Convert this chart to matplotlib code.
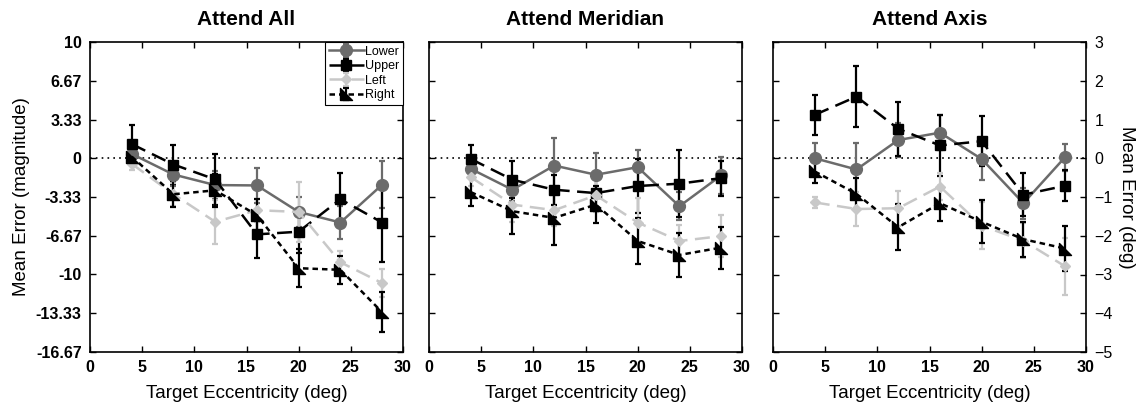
import numpy as np
import matplotlib
matplotlib.use("Agg")
import matplotlib.pyplot as plt
from matplotlib.path import Path

plt.rcParams['font.family'] = ['Liberation Sans', 'DejaVu Sans']

ecc = [4, 8, 12, 16, 20, 24, 28]
series = ["Lower", "Upper", "Left", "Right"]

# Attend All (magnitude)
all_mean = {
    "Lower": [0.37, -1.40, -2.31, -2.34, -4.62, -5.53, -2.28],
    "Upper": [1.22, -0.54, -1.82, -6.55, -6.32, -3.53, -5.53],
    "Left": [-0.48, -3.10, -5.47, -4.47, -4.62, -8.95, -10.74],
    "Right": [0.14, -3.10, -2.76, -4.90, -9.46, -9.60, -13.25],
}
all_err = {
    "Lower": [0.9, 1.0, 1.2, 1.5, 1.3, 1.4, 2.0],
    "Upper": [1.65, 1.7, 2.2, 2.0, 1.8, 2.25, 3.4],
    "Left": [0.5, 1.0, 1.9, 1.0, 2.6, 1.0, 1.2],
    "Right": [0.7, 1.1, 1.4, 1.4, 1.65, 1.2, 1.7],
}

# Attend Meridian (magnitude)
mer_mean = {
    "Lower": [-0.91, -2.71, -0.63, -1.42, -0.77, -4.13, -1.48],
    "Upper": [-0.06, -1.85, -2.71, -3.00, -2.39, -2.19, -1.71],
    "Left": [-1.62, -3.99, -4.47, -3.19, -5.53, -7.12, -6.70],
    "Right": [-2.91, -4.56, -5.13, -3.99, -7.12, -8.32, -7.69],
}
mer_err = {
    "Lower": [0.8, 1.0, 2.4, 1.9, 1.5, 1.2, 1.6],
    "Upper": [1.2, 1.6, 1.3, 1.3, 2.3, 2.9, 1.5],
    "Left": [0.8, 1.5, 1.4, 1.4, 2.1, 1.4, 1.8],
    "Right": [1.2, 2.0, 2.3, 1.6, 2.0, 1.9, 1.8],
}

# Attend Axis (deg)
axis_mean = {
    "Lower": [0.0, -0.29, 0.47, 0.66, -0.02, -1.16, 0.03],
    "Upper": [1.12, 1.59, 0.76, 0.33, 0.44, -0.94, -0.71],
    "Left": [-1.14, -1.31, -1.29, -0.73, -1.74, -2.13, -2.79],
    "Right": [-0.34, -0.92, -1.78, -1.16, -1.64, -2.09, -2.33],
}
axis_err = {
    "Lower": [0.4, 0.68, 0.45, 0.45, 0.55, 0.4, 0.35],
    "Upper": [0.52, 0.78, 0.7, 0.78, 0.65, 0.55, 0.4],
    "Left": [0.15, 0.45, 0.45, 0.35, 0.6, 0.45, 0.74],
    "Right": [0.3, 0.4, 0.6, 0.45, 0.55, 0.45, 0.57],
}

titles = ["Attend All", "Attend Meridian", "Attend Axis"]
mag_ticks = [10, 6.67, 3.33, 0, -3.33, -6.67, -10, -13.33, -16.67]
mag_labels = ["10", "6.67", "3.33", "0", "-3.33", "-6.67", "-10", "-13.33", "-16.67"]
deg_ticks = [3, 2, 1, 0, -1, -2, -3, -4, -5]

# right-angle triangle marker as in the paper
tri = Path([(-1, 1), (-1, -1), (1, -1), (-1, 1)],
           [Path.MOVETO, Path.LINETO, Path.LINETO, Path.CLOSEPOLY])

styles = {
    "Lower": dict(color="#6b6b6b", ls="-", marker="o", ms=8.5),
    "Upper": dict(color="black", ls=(0, (6, 3)), marker="s", ms=6.5),
    "Left": dict(color="#c8c8c8", ls=(0, (6, 3)), marker="D", ms=5.5),
    "Right": dict(color="black", ls=(0, (2.2, 1.6)), marker=tri, ms=8.5),
}

fig = plt.figure(figsize=(11.38, 4.13), dpi=100)
w = 313 / 1138
b = 1 - 352 / 413
h = 310 / 413
lefts = [90 / 1138, 429 / 1138, 773 / 1138]
axes = [fig.add_axes([l, b, w, h]) for l in lefts]

data = [(all_mean, all_err), (mer_mean, mer_err), (axis_mean, axis_err)]

for i, ax in enumerate(axes):
    means, errs = data[i]
    for s in series:
        st = styles[s]
        ax.errorbar(ecc, means[s], yerr=errs[s], color=st["color"],
                    ls=st["ls"], lw=1.8, marker=st["marker"], ms=st["ms"],
                    mfc=st["color"], mec=st["color"], ecolor=st["color"],
                    elinewidth=1.6, capsize=2.5, capthick=1.6, label=s)
    ax.axhline(0, color="black", ls=(0, (1, 2.5)), lw=1.2, zorder=0)
    ax.set_xlim(0, 30)
    ax.set_xticks([0, 5, 10, 15, 20, 25, 30])
    if i < 2:
        ax.set_ylim(-16.67, 10)
        ax.set_yticks(mag_ticks)
    else:
        ax.set_ylim(-5, 3)
        ax.set_yticks(deg_ticks)
    ax.tick_params(direction="in", top=True, right=True, length=4,
                   width=1, labelsize=11.5, pad=6)
    for lab in ax.get_xticklabels() + ax.get_yticklabels():
        lab.set_fontweight("bold")
    for sp in ax.spines.values():
        sp.set_linewidth(1.2)
    ax.set_title(titles[i], fontsize=15, fontweight="bold", pad=12)
    ax.set_xlabel("Target Eccentricity (deg)", fontsize=13.5, labelpad=7)

axes[0].set_yticklabels(mag_labels, fontweight="bold")
axes[0].set_ylabel("Mean Error (magnitude)", fontsize=13.5, labelpad=4)
axes[1].tick_params(labelleft=False)
axes[2].tick_params(labelleft=False, labelright=True)
axes[2].yaxis.set_label_position("right")
axes[2].set_ylabel("Mean Error (deg)", fontsize=13.5, rotation=270, labelpad=16)

leg = axes[0].legend(loc="upper right", fontsize=9, handlelength=2.8,
                     handletextpad=0.1, borderpad=0.3, labelspacing=0.2,
                     fancybox=False, framealpha=1, borderaxespad=0)
leg.get_frame().set_edgecolor("black")
leg.get_frame().set_linewidth(0.8)

fig.savefig("out.png", dpi=100)
